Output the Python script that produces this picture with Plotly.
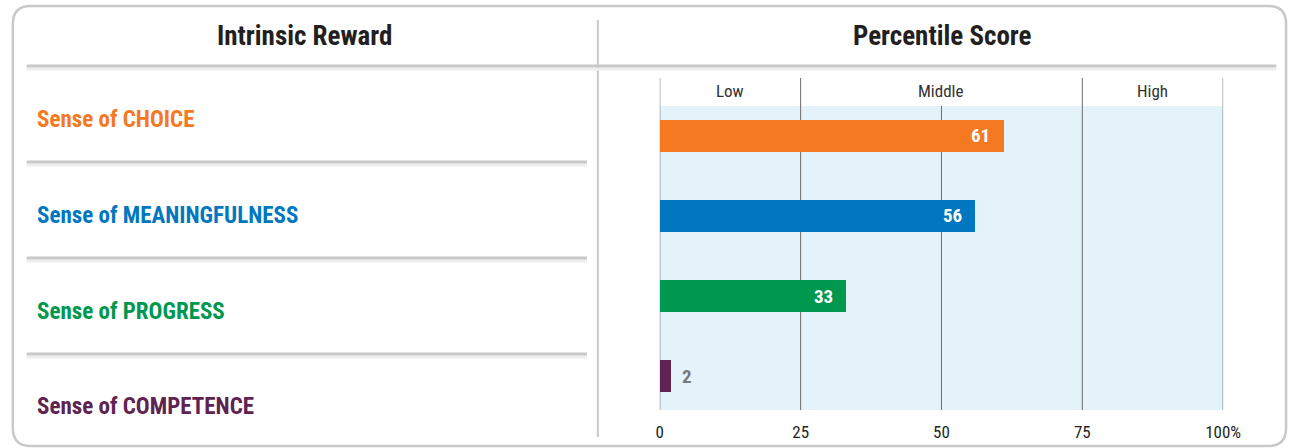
import plotly.graph_objects as go

# ---- data ----
categories = ["Sense of CHOICE", "Sense of MEANINGFULNESS", "Sense of PROGRESS", "Sense of COMPETENCE"]
label_prefix = ["Sense of ", "Sense of ", "Sense of ", "Sense of "]
label_main = ["CHOICE", "MEANINGFULNESS", "PROGRESS", "COMPETENCE"]
scores = [61, 56, 33, 2]
bar_colors = ["#F47920", "#0077C0", "#00974F", "#5E2350"]
tick_vals = [0, 25, 50, 75, 100]
tick_text = ["0", "25", "50", "75", "100%"]
band_names = ["Low", "Middle", "High"]
band_bounds = [0, 25, 75, 100]

W, H = 1309, 448
FONT = "Roboto Condensed, Liberation Sans Narrow, Noto Sans Condensed, DejaVu Sans Condensed, Roboto, sans-serif"
LINE = "#c9c9c9"
GRID = "#6b6b6b"


def px(x):
    return x / W


def py(y):
    return 1 - y / H


# plot area (pixels)
PL, PR, PT, PB = 667, 1240, 106, 410
ypos = list(range(len(categories)))

fig = go.Figure()
fig.add_trace(go.Bar(
    x=scores, y=ypos, orientation="h", width=0.4,
    marker=dict(color=bar_colors, line=dict(width=0)),
    hoverinfo="skip", showlegend=False,
))

shapes = []
# outer rounded box
x0, x1, y0, y1, r = 9, 1304, 6, 446, 18
rx, ry = r / W, r / H
X0, X1, Y0, Y1 = px(x0), px(x1), py(y0), py(y1)
path = (f"M {X0+rx},{Y0} L {X1-rx},{Y0} Q {X1},{Y0} {X1},{Y0-ry} "
        f"L {X1},{Y1+ry} Q {X1},{Y1} {X1-rx},{Y1} "
        f"L {X0+rx},{Y1} Q {X0},{Y1} {X0},{Y1+ry} "
        f"L {X0},{Y0-ry} Q {X0},{Y0} {X0+rx},{Y0} Z")
shapes.append(dict(type="path", path=path, xref="paper", yref="paper",
                   line=dict(color=LINE, width=2.5), fillcolor="rgba(0,0,0,0)", layer="above"))
# left/right divider
shapes.append(dict(type="line", xref="paper", yref="paper", x0=px(604), x1=px(604),
                   y0=py(20), y1=py(437), line=dict(color=LINE, width=2)))
# header line (with soft shadow)
shapes.append(dict(type="line", xref="paper", yref="paper", x0=px(23), x1=px(1294),
                   y0=py(69), y1=py(69), line=dict(color="#eeeeee", width=3)))
shapes.append(dict(type="line", xref="paper", yref="paper", x0=px(23), x1=px(1294),
                   y0=py(66), y1=py(66), line=dict(color=LINE, width=3)))
# row separators in left panel
for yy in [162, 258, 354]:
    shapes.append(dict(type="line", xref="paper", yref="paper", x0=px(23), x1=px(593),
                       y0=py(yy + 3), y1=py(yy + 3), line=dict(color="#eeeeee", width=3)))
    shapes.append(dict(type="line", xref="paper", yref="paper", x0=px(23), x1=px(593),
                       y0=py(yy), y1=py(yy), line=dict(color=LINE, width=3)))
# grid lines (band bounds extend into header band)
for v in tick_vals:
    top = 78 if v in band_bounds else PT
    shapes.append(dict(type="line", xref="x", yref="paper", x0=v, x1=v,
                       y0=py(PB), y1=py(top), line=dict(color=GRID, width=1), layer="below"))

annotations = []
# titles
for t, xc in [("Intrinsic Reward", 306), ("Percentile Score", 955)]:
    annotations.append(dict(text=f"<b>{t}</b>", x=px(xc), y=py(36), xref="paper", yref="paper",
                            xanchor="center", yanchor="middle", showarrow=False,
                            font=dict(family=FONT, size=27, color="#231f20")))
# band names
for i, name in enumerate(band_names):
    mid = (band_bounds[i] + band_bounds[i + 1]) / 2
    annotations.append(dict(text=name, x=mid, y=py(91), xref="x", yref="paper", showarrow=False,
                            xanchor="center", yanchor="middle",
                            font=dict(family=FONT, size=17, color="#333333")))
# category labels
label_y = [120, 215, 311, 406]
for i in range(len(categories)):
    annotations.append(dict(text=f"<b>{label_prefix[i]}{label_main[i]}</b>", x=px(32), y=py(label_y[i]),
                            xref="paper", yref="paper", xanchor="left", yanchor="middle", showarrow=False,
                            font=dict(family=FONT, size=23, color=bar_colors[i])))
# value labels
for i, v in enumerate(scores):
    inside = v >= 10
    annotations.append(dict(text=f"<b>{v}</b>", x=v, y=ypos[i], xref="x", yref="y",
                            xanchor="right" if inside else "left", yanchor="middle",
                            xshift=-11 if inside else 9, showarrow=False,
                            font=dict(family=FONT, size=19, color="white" if inside else "#77787b")))

fig.update_layout(
    width=W, height=H, margin=dict(l=0, r=0, t=0, b=0), autosize=False,
    paper_bgcolor="white", plot_bgcolor="#e3f3f9",
    shapes=shapes, annotations=annotations, bargap=0,
    xaxis=dict(domain=[px(PL), px(PR)], range=[0, 100], tickvals=tick_vals, ticktext=tick_text,
               showgrid=False, zeroline=False, showline=False, ticks="outside", ticklen=7,
               tickcolor="rgba(0,0,0,0)", tickfont=dict(family=FONT, size=17, color="#231f20"),
               fixedrange=True),
    yaxis=dict(domain=[py(PB), py(PT)], range=[3.425, -0.375], showticklabels=False,
               showgrid=False, zeroline=False, showline=False, fixedrange=True),
    font=dict(family=FONT),
)

post = ("var de=document.documentElement, b=document.body;"
        "de.style.margin='0';de.style.padding='0';de.style.overflow='hidden';"
        "b.style.margin='0';b.style.padding='0';b.style.overflow='hidden';"
        "var g=document.querySelector('.plotly-graph-div');"
        "if(g){g.style.position='absolute';g.style.left='0px';g.style.top='0px';}")

fig.write_html("out.html", config={"responsive": False, "displayModeBar": False},
               post_script=post)
